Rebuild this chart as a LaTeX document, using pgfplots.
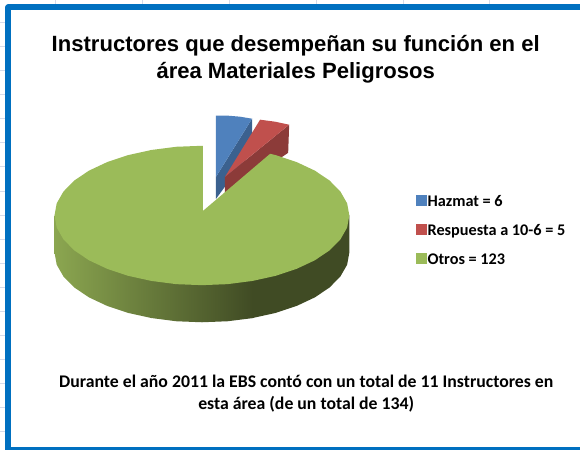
\documentclass[border=0pt]{standalone}
\usepackage{pgfplots}
\pgfplotsset{compat=1.18}
\usepackage{fontspec}
\setmainfont{Liberation Sans}
\newfontfamily\calib{Carlito}
\definecolor{frameblue}{HTML}{0070C0}
\definecolor{gridb}{HTML}{D5DBEA}
\definecolor{pblue}{HTML}{4F81BD}
\definecolor{pblued}{HTML}{3B618F}
\definecolor{pred}{HTML}{C0504D}
\definecolor{predd}{HTML}{8C3B39}
\definecolor{pgreen}{HTML}{9BBB59}
\definecolor{pgreenl}{HTML}{8BA650}
\definecolor{pgreend}{HTML}{404B24}
\begin{document}
\begin{tikzpicture}
\begin{axis}[
  scale only axis, width=580pt, height=450pt,
  xmin=-1, xmax=579, ymin=-1, ymax=449, y dir=reverse,
  hide axis, clip=true, unbounded coords=jump,
  legend cell align=left,
  legend style={at={(axis cs:415,193.5)}, anchor=north west, draw=none, fill=none,
    font=\calib\bfseries\fontsize{16.2}{18}\selectfont, row sep=13.5pt, inner sep=0pt, nodes={inner sep=1.5pt}},
  legend image code/.code={\fill[#1] (0.12cm,-0.13cm) rectangle (0.47cm,0.22cm);},
]
\addlegendimage{pblue}\addlegendentry{Hazmat = 6}
\addlegendimage{pred}\addlegendentry{Respuesta a 10-6 = 5}
\addlegendimage{pgreen}\addlegendentry{Otros = 123}
% sheet grid stubs
\addplot[draw=gridb, line width=0.7pt, forget plot] coordinates {
(1,23)(6,23)(nan,nan)(1,47)(6,47)(nan,nan)(1,71)(6,71)(nan,nan)(1,95)(6,95)(nan,nan)
(1,119)(6,119)(nan,nan)(1,143)(6,143)(nan,nan)(1,167)(6,167)(nan,nan)(1,191)(6,191)(nan,nan)
(1,215)(6,215)(nan,nan)(1,239)(6,239)(nan,nan)(1,263)(6,263)(nan,nan)(1,287)(6,287)(nan,nan)
(1,311)(6,311)(nan,nan)(1,335)(6,335)(nan,nan)(1,359)(6,359)(nan,nan)(1,383)(6,383)(nan,nan)
(1,407)(6,407)(nan,nan)(1,431)(6,431)(nan,nan)
(56,1)(56,5)(nan,nan)(142.7,1)(142.7,5)(nan,nan)(229,1)(229,5)(nan,nan)(316,1)(316,5)(nan,nan)(402.7,1)(402.7,5)(nan,nan)(489,1)(489,5)};
% frame
\addplot[draw=frameblue, line width=6pt, line join=round, forget plot] coordinates {(585,8)(9,8)(9,449)(585,449)};
% blue slice
\addplot[fill=pblued, draw=none, forget plot] coordinates {(216,177)(252,119)(252,150)(216,199)} -- cycle;
\addplot[fill=pblue, draw=none, forget plot] coordinates {(216,116)(228,116)(240,117)(252,119)(216,177)} -- cycle;
% red slice
\addplot[fill=predd, draw=none, forget plot] coordinates {(225,177)(289,125)(288,153)(225,196)} -- cycle;
\addplot[fill=pred, draw=none, forget plot] coordinates {(260,120)(275,122)(289,125)(225,177)} -- cycle;
% green side
\addplot[draw=none, forget plot, left color=pgreenl, right color=pgreend] coordinates {
(253,215)(253,317.8)(227.5,321)(202,322)
(176.5,321)(151.7,317.8)(128.5,312.7)(107.5,305.7)(89.4,297.2)(74.7,287.3)(63.9,276.3)(57.2,264.6)(55,252.5)(55,215.5)} -- cycle;
\addplot[fill=pgreend, draw=none, forget plot] coordinates {
(349,215.5)(349,252.5)(346.8,264.6)(340.1,276.3)(329.3,287.3)(314.6,297.2)(296.5,305.7)(275.5,312.7)(252.3,317.8)(252.3,215)} -- cycle;
% green top
\addplot[fill=pgreen, draw=none, forget plot] coordinates {
(203,211)(270,154)(275.5,155.3)(296.5,162.3)(314.6,170.8)(329.3,180.7)(340.1,191.7)(346.8,203.4)(349,215.5)
(346.8,227.6)(340.1,239.3)(329.3,250.3)(314.6,260.2)(296.5,268.7)(275.5,275.7)(252.3,280.8)(227.5,284)(202,285)
(176.5,284)(151.7,280.8)(128.5,275.7)(107.5,268.7)(89.4,260.2)(74.7,250.3)(63.9,239.3)(57.2,227.6)(55,215.5)
(57.2,203.4)(63.9,191.7)(74.7,180.7)(89.4,170.8)(107.5,162.3)(128.5,155.3)(151.7,150.2)(176.5,147)(203,146)} -- cycle;
% texts
\node[font=\bfseries\fontsize{22}{27}\selectfont, align=center, anchor=center] at (axis cs:295.5,59.5)
  {Instructores que desempeñan su función en el\\área Materiales Peligrosos};
\node[font=\calib\bfseries\fontsize{17.7}{22}\selectfont, align=center, anchor=center] at (axis cs:306,393)
  {Durante el año 2011 la EBS contó con un total de 11 Instructores en\\esta área (de un total de 134)};
\end{axis}
\end{tikzpicture}
\end{document}
